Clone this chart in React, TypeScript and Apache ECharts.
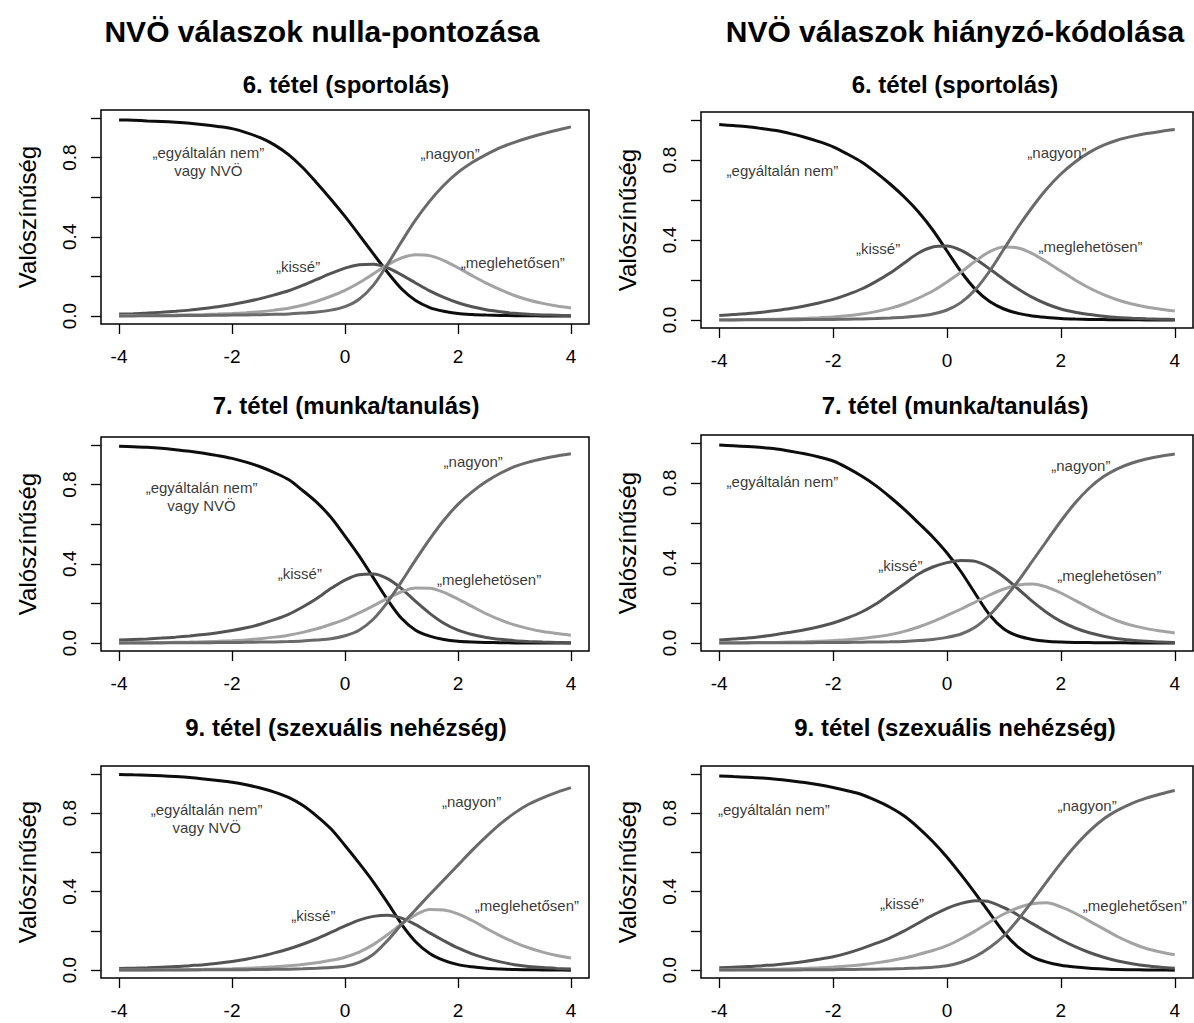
import React, { useEffect, useRef } from "react";
import * as echarts from "echarts";

// ---------- DATA ----------
const theta = [-4, -3.75, -3.5, -3.25, -3, -2.75, -2.5, -2.25, -2, -1.75, -1.5, -1.25, -1, -0.75, -0.5, -0.25, 0, 0.25, 0.5, 0.75, 1, 1.25, 1.5, 1.75, 2, 2.25, 2.5, 2.75, 3, 3.25, 3.5, 3.75, 4];
const xTicks = [-4, -2, 0, 2, 4];
const yTicks = [0, 0.2, 0.4, 0.6, 0.8, 1];
const yTickLabels = [0, 0.4, 0.8];

const headers = ["NVÖ válaszok nulla-pontozása", "NVÖ válaszok hiányzó-kódolása"];
const itemTitles = ["6. tétel (sportolás)", "7. tétel (munka/tanulás)", "9. tétel (szexuális nehézség)"];
const yAxisName = "Valószínűség";

// 6. tétel – nulla-pontozás
const i6N_egyaltalan = [0.99, 0.988, 0.985, 0.982, 0.978, 0.973, 0.966, 0.957, 0.946, 0.926, 0.9, 0.864, 0.815, 0.75, 0.672, 0.59, 0.503, 0.41, 0.315, 0.222, 0.138, 0.078, 0.043, 0.024, 0.013, 0.008, 0.005, 0.003, 0.002, 0.0015, 0.001, 0.0005, 0];
const i6N_kisse = [0.01, 0.012, 0.015, 0.019, 0.024, 0.03, 0.038, 0.047, 0.058, 0.072, 0.088, 0.107, 0.128, 0.155, 0.185, 0.215, 0.242, 0.259, 0.262, 0.244, 0.208, 0.167, 0.127, 0.094, 0.067, 0.047, 0.032, 0.022, 0.014, 0.009, 0.006, 0.004, 0.002];
const i6N_meglehetosen = [0.002, 0.0025, 0.003, 0.004, 0.005, 0.0065, 0.008, 0.01, 0.013, 0.017, 0.022, 0.03, 0.04, 0.055, 0.075, 0.1, 0.13, 0.168, 0.213, 0.258, 0.293, 0.31, 0.305, 0.28, 0.244, 0.204, 0.166, 0.133, 0.104, 0.081, 0.064, 0.051, 0.041];
const i6N_nagyon = [0.001, 0.001, 0.0015, 0.002, 0.002, 0.003, 0.003, 0.004, 0.005, 0.006, 0.007, 0.009, 0.011, 0.015, 0.02, 0.03, 0.048, 0.085, 0.155, 0.26, 0.375, 0.485, 0.58, 0.66, 0.725, 0.775, 0.815, 0.85, 0.877, 0.9, 0.92, 0.938, 0.955];

// 6. tétel – hiányzó-kódolás
const i6H_egyaltalan = [0.977, 0.972, 0.966, 0.957, 0.947, 0.932, 0.914, 0.892, 0.866, 0.83, 0.79, 0.738, 0.68, 0.615, 0.54, 0.45, 0.345, 0.24, 0.153, 0.092, 0.055, 0.033, 0.02, 0.013, 0.008, 0.005, 0.003, 0.002, 0.001, 0.001, 0.0005, 0.0003, 0];
const i6H_kisse = [0.022, 0.027, 0.032, 0.039, 0.048, 0.058, 0.07, 0.085, 0.103, 0.127, 0.155, 0.192, 0.235, 0.285, 0.335, 0.365, 0.37, 0.348, 0.305, 0.255, 0.203, 0.155, 0.113, 0.08, 0.055, 0.039, 0.027, 0.019, 0.013, 0.009, 0.006, 0.004, 0.003];
const i6H_meglehetosen = [0.001, 0.0015, 0.002, 0.003, 0.004, 0.006, 0.008, 0.011, 0.015, 0.021, 0.03, 0.042, 0.058, 0.08, 0.11, 0.145, 0.19, 0.24, 0.295, 0.342, 0.365, 0.36, 0.332, 0.29, 0.245, 0.2, 0.16, 0.127, 0.1, 0.08, 0.065, 0.054, 0.045];
const i6H_nagyon = [0.0005, 0.0006, 0.0008, 0.001, 0.0012, 0.0015, 0.002, 0.0025, 0.003, 0.004, 0.005, 0.007, 0.01, 0.014, 0.02, 0.03, 0.05, 0.088, 0.152, 0.245, 0.355, 0.465, 0.565, 0.655, 0.73, 0.79, 0.838, 0.874, 0.9, 0.918, 0.932, 0.943, 0.952];

// 7. tétel – nulla-pontozás
const i7N_egyaltalan = [0.993, 0.991, 0.988, 0.983, 0.976, 0.968, 0.958, 0.946, 0.932, 0.913, 0.89, 0.86, 0.825, 0.77, 0.71, 0.635, 0.54, 0.44, 0.33, 0.22, 0.125, 0.065, 0.035, 0.018, 0.009, 0.005, 0.003, 0.002, 0.001, 0.0007, 0.0004, 0.0002, 0];
const i7N_kisse = [0.015, 0.018, 0.021, 0.025, 0.03, 0.036, 0.043, 0.052, 0.063, 0.077, 0.095, 0.118, 0.145, 0.182, 0.225, 0.275, 0.318, 0.345, 0.348, 0.325, 0.275, 0.21, 0.15, 0.1, 0.065, 0.043, 0.028, 0.019, 0.012, 0.008, 0.005, 0.003, 0.002];
const i7N_meglehetosen = [0.001, 0.0015, 0.002, 0.003, 0.004, 0.005, 0.007, 0.009, 0.012, 0.016, 0.022, 0.03, 0.04, 0.054, 0.072, 0.095, 0.12, 0.152, 0.188, 0.226, 0.259, 0.278, 0.277, 0.256, 0.222, 0.185, 0.148, 0.117, 0.092, 0.073, 0.058, 0.048, 0.04];
const i7N_nagyon = [0.0005, 0.0006, 0.0008, 0.001, 0.0012, 0.0015, 0.002, 0.0025, 0.003, 0.004, 0.005, 0.006, 0.008, 0.011, 0.016, 0.022, 0.037, 0.065, 0.12, 0.205, 0.31, 0.42, 0.525, 0.62, 0.7, 0.763, 0.815, 0.857, 0.89, 0.913, 0.93, 0.944, 0.955];

// 7. tétel – hiányzó-kódolás
const i7H_egyaltalan = [0.99, 0.986, 0.982, 0.977, 0.97, 0.959, 0.946, 0.93, 0.91, 0.876, 0.835, 0.787, 0.73, 0.668, 0.6, 0.53, 0.45, 0.355, 0.245, 0.14, 0.07, 0.035, 0.018, 0.009, 0.005, 0.003, 0.002, 0.001, 0.001, 0.0005, 0.0003, 0.0002, 0];
const i7H_kisse = [0.015, 0.02, 0.025, 0.033, 0.043, 0.054, 0.066, 0.081, 0.1, 0.125, 0.155, 0.195, 0.245, 0.295, 0.345, 0.38, 0.402, 0.413, 0.408, 0.378, 0.33, 0.27, 0.208, 0.153, 0.108, 0.075, 0.051, 0.034, 0.021, 0.014, 0.009, 0.005, 0.003];
const i7H_meglehetosen = [0.001, 0.0015, 0.002, 0.0025, 0.003, 0.0045, 0.006, 0.009, 0.012, 0.016, 0.022, 0.031, 0.042, 0.058, 0.08, 0.107, 0.138, 0.17, 0.205, 0.24, 0.27, 0.29, 0.295, 0.28, 0.25, 0.213, 0.176, 0.14, 0.11, 0.088, 0.072, 0.06, 0.05];
const i7H_nagyon = [0.0005, 0.0005, 0.0006, 0.0008, 0.001, 0.0012, 0.0015, 0.002, 0.0025, 0.003, 0.004, 0.005, 0.006, 0.008, 0.012, 0.018, 0.028, 0.045, 0.08, 0.14, 0.22, 0.31, 0.41, 0.51, 0.61, 0.7, 0.775, 0.832, 0.872, 0.9, 0.92, 0.934, 0.945];

// 9. tétel – nulla-pontozás
const i9N_egyaltalan = [0.997, 0.995, 0.993, 0.99, 0.986, 0.981, 0.974, 0.966, 0.957, 0.944, 0.928, 0.907, 0.88, 0.84, 0.785, 0.72, 0.635, 0.545, 0.45, 0.345, 0.235, 0.145, 0.085, 0.05, 0.028, 0.017, 0.01, 0.006, 0.003, 0.002, 0.001, 0.0005, 0];
const i9N_kisse = [0.008, 0.01, 0.012, 0.015, 0.018, 0.023, 0.028, 0.035, 0.044, 0.056, 0.07, 0.088, 0.108, 0.132, 0.16, 0.192, 0.225, 0.255, 0.274, 0.28, 0.265, 0.232, 0.19, 0.15, 0.113, 0.083, 0.06, 0.042, 0.028, 0.019, 0.013, 0.009, 0.006];
const i9N_meglehetosen = [0.001, 0.001, 0.0013, 0.0016, 0.002, 0.003, 0.004, 0.0055, 0.007, 0.01, 0.013, 0.017, 0.022, 0.029, 0.038, 0.05, 0.066, 0.092, 0.13, 0.18, 0.235, 0.282, 0.309, 0.306, 0.287, 0.253, 0.213, 0.175, 0.142, 0.114, 0.092, 0.075, 0.062];
const i9N_nagyon = [0.0005, 0.0005, 0.0006, 0.0008, 0.001, 0.0012, 0.0015, 0.002, 0.002, 0.0025, 0.003, 0.004, 0.005, 0.007, 0.01, 0.014, 0.02, 0.04, 0.08, 0.15, 0.232, 0.308, 0.385, 0.46, 0.535, 0.61, 0.68, 0.745, 0.8, 0.845, 0.878, 0.906, 0.93];

// 9. tétel – hiányzó-kódolás
const i9H_egyaltalan = [0.989, 0.986, 0.983, 0.979, 0.973, 0.965, 0.956, 0.944, 0.93, 0.914, 0.895, 0.865, 0.83, 0.785, 0.725, 0.655, 0.575, 0.485, 0.39, 0.29, 0.192, 0.117, 0.068, 0.041, 0.025, 0.016, 0.01, 0.006, 0.003, 0.002, 0.001, 0.0005, 0];
const i9H_kisse = [0.012, 0.015, 0.018, 0.023, 0.028, 0.035, 0.044, 0.055, 0.068, 0.087, 0.11, 0.136, 0.165, 0.2, 0.24, 0.28, 0.315, 0.34, 0.353, 0.348, 0.318, 0.28, 0.237, 0.195, 0.155, 0.12, 0.09, 0.066, 0.047, 0.033, 0.022, 0.015, 0.01];
const i9H_meglehetosen = [0.002, 0.0025, 0.003, 0.004, 0.005, 0.007, 0.009, 0.012, 0.016, 0.021, 0.028, 0.037, 0.048, 0.062, 0.08, 0.1, 0.125, 0.16, 0.2, 0.245, 0.286, 0.318, 0.338, 0.343, 0.322, 0.29, 0.25, 0.21, 0.17, 0.137, 0.11, 0.092, 0.078];
const i9H_nagyon = [0.0005, 0.0005, 0.0006, 0.0008, 0.001, 0.0012, 0.0015, 0.002, 0.0025, 0.003, 0.004, 0.005, 0.006, 0.008, 0.011, 0.015, 0.022, 0.04, 0.07, 0.115, 0.175, 0.258, 0.352, 0.45, 0.545, 0.632, 0.708, 0.77, 0.815, 0.85, 0.876, 0.897, 0.915];

// ---------- LAYOUT / STYLE ----------
const FONT = "'Liberation Sans', Arial, Helvetica, sans-serif";
const COLORS = ["#0d0d0d", "#545454", "#a3a3a3", "#6a6a6a"];

const colLeft = [{ left: 101, width: 488 }, { left: 701, width: 492 }];
const rowBox = [
  [{ top: 110, height: 214 }, { top: 112, height: 216 }],
  [{ top: 437, height: 214 }, { top: 435, height: 216 }],
  [{ top: 766, height: 212 }, { top: 766, height: 212 }],
];
const titleX = [346, 955];
const titleY = [84, 405, 727];
const headerPos = [{ x: 322, y: 31 }, { x: 955, y: 31 }];

type Ann = { x: number; y: number; t: string };

const panels = [
  {
    row: 0, col: 0, title: itemTitles[0],
    curves: [i6N_egyaltalan, i6N_kisse, i6N_meglehetosen, i6N_nagyon],
    ann: [
      { x: -2.42, y: 0.78, t: "„egyáltalán nem”\nvagy NVÖ" },
      { x: 1.86, y: 0.82, t: "„nagyon”" },
      { x: -0.83, y: 0.25, t: "„kissé”" },
      { x: 2.97, y: 0.27, t: "„meglehetősen”" },
    ] as Ann[],
  },
  {
    row: 0, col: 1, title: itemTitles[0],
    curves: [i6H_egyaltalan, i6H_kisse, i6H_meglehetosen, i6H_nagyon],
    ann: [
      { x: -2.89, y: 0.75, t: "„egyáltalán nem”" },
      { x: 1.93, y: 0.84, t: "„nagyon”" },
      { x: -1.21, y: 0.36, t: "„kissé”" },
      { x: 2.52, y: 0.37, t: "„meglehetösen”" },
    ] as Ann[],
  },
  {
    row: 1, col: 0, title: itemTitles[1],
    curves: [i7N_egyaltalan, i7N_kisse, i7N_meglehetosen, i7N_nagyon],
    ann: [
      { x: -2.54, y: 0.74, t: "„egyáltalán nem”\nvagy NVÖ" },
      { x: 2.27, y: 0.915, t: "„nagyon”" },
      { x: -0.8, y: 0.35, t: "„kissé”" },
      { x: 2.55, y: 0.32, t: "„meglehetösen”" },
    ] as Ann[],
  },
  {
    row: 1, col: 1, title: itemTitles[1],
    curves: [i7H_egyaltalan, i7H_kisse, i7H_meglehetosen, i7H_nagyon],
    ann: [
      { x: -2.89, y: 0.81, t: "„egyáltalán nem”" },
      { x: 2.35, y: 0.89, t: "„nagyon”" },
      { x: -0.82, y: 0.39, t: "„kissé”" },
      { x: 2.85, y: 0.34, t: "„meglehetösen”" },
    ] as Ann[],
  },
  {
    row: 2, col: 0, title: itemTitles[2],
    curves: [i9N_egyaltalan, i9N_kisse, i9N_meglehetosen, i9N_nagyon],
    ann: [
      { x: -2.45, y: 0.775, t: "„egyáltalán nem”\nvagy NVÖ" },
      { x: 2.24, y: 0.86, t: "„nagyon”" },
      { x: -0.56, y: 0.28, t: "„kissé”" },
      { x: 3.22, y: 0.33, t: "„meglehetősen”" },
    ] as Ann[],
  },
  {
    row: 2, col: 1, title: itemTitles[2],
    curves: [i9H_egyaltalan, i9H_kisse, i9H_meglehetosen, i9H_nagyon],
    ann: [
      { x: -3.04, y: 0.82, t: "„egyáltalán nem”" },
      { x: 2.46, y: 0.84, t: "„nagyon”" },
      { x: -0.79, y: 0.34, t: "„kissé”" },
      { x: 3.3, y: 0.33, t: "„meglehetősen”" },
    ] as Ann[],
  },
];

function buildOption() {
  const grid: any[] = [];
  const xAxis: any[] = [];
  const yAxis: any[] = [];
  const series: any[] = [];
  const graphic: any[] = [];

  headers.forEach((h, i) => {
    graphic.push({
      type: "text",
      x: headerPos[i].x,
      y: headerPos[i].y,
      style: {
        text: h,
        font: `bold 30px ${FONT}`,
        fill: "#000",
        textAlign: "center",
        textVerticalAlign: "middle",
      },
    });
  });

  panels.forEach((p, i) => {
    const c = colLeft[p.col];
    const r = rowBox[p.row][p.col];
    grid.push({
      left: c.left,
      width: c.width,
      top: r.top,
      height: r.height,
      show: true,
      borderColor: "#000",
      borderWidth: 1.5,
      backgroundColor: "transparent",
    });
    graphic.push({
      type: "text",
      x: titleX[p.col],
      y: titleY[p.row],
      style: {
        text: p.title,
        font: `bold 24px ${FONT}`,
        fill: "#000",
        textAlign: "center",
        textVerticalAlign: "middle",
      },
    });
    xAxis.push({
      type: "value",
      gridIndex: i,
      min: -4.32,
      max: 4.32,
      axisLine: { show: false, onZero: false },
      axisTick: {
        show: true,
        length: 10,
        customValues: xTicks,
        lineStyle: { color: "#000", width: 1.3 },
      },
      axisLabel: {
        customValues: xTicks,
        margin: 23,
        fontSize: 19,
        color: "#000",
        fontFamily: FONT,
      },
      splitLine: { show: false },
    });
    yAxis.push({
      type: "value",
      gridIndex: i,
      min: -0.04,
      max: 1.04,
      axisLine: { show: false, onZero: false },
      axisTick: {
        show: true,
        length: 10,
        customValues: yTicks,
        lineStyle: { color: "#000", width: 1.3 },
      },
      axisLabel: {
        customValues: yTickLabels,
        rotate: 90,
        margin: 22,
        fontSize: 19,
        color: "#000",
        fontFamily: FONT,
        formatter: (v: number) => v.toFixed(1),
      },
      splitLine: { show: false },
      name: yAxisName,
      nameLocation: "middle",
      nameGap: 62,
      nameTextStyle: { fontSize: 24, color: "#000", fontFamily: FONT },
    });
    p.curves.forEach((arr, k) => {
      series.push({
        type: "line",
        xAxisIndex: i,
        yAxisIndex: i,
        data: theta.map((t, j) => [t, arr[j]]),
        smooth: 0.3,
        symbol: "none",
        lineStyle: { color: COLORS[k], width: 3 },
        z: 2 + k,
      });
    });
    series.push({
      type: "scatter",
      xAxisIndex: i,
      yAxisIndex: i,
      symbolSize: 0,
      silent: true,
      z: 10,
      data: p.ann.map((a) => ({ value: [a.x, a.y], name: a.t })),
      label: {
        show: true,
        position: "inside",
        formatter: "{b}",
        color: "#000",
        fontSize: 15,
        lineHeight: 18,
        fontFamily: FONT,
        align: "center",
        verticalAlign: "middle",
      },
    });
  });

  return {
    animation: false,
    backgroundColor: "#fff",
    grid,
    xAxis,
    yAxis,
    series,
    graphic,
  };
}

export default function App() {
  const ref = useRef<HTMLDivElement>(null);
  useEffect(() => {
    document.body.style.margin = "0";
    document.body.style.overflow = "hidden";
    if (!ref.current) return;
    const chart = echarts.init(ref.current, undefined, { renderer: "svg" });
    chart.setOption(buildOption() as any);
    return () => chart.dispose();
  }, []);
  return <div ref={ref} style={{ width: 1194, height: 1023 }} />;
}
